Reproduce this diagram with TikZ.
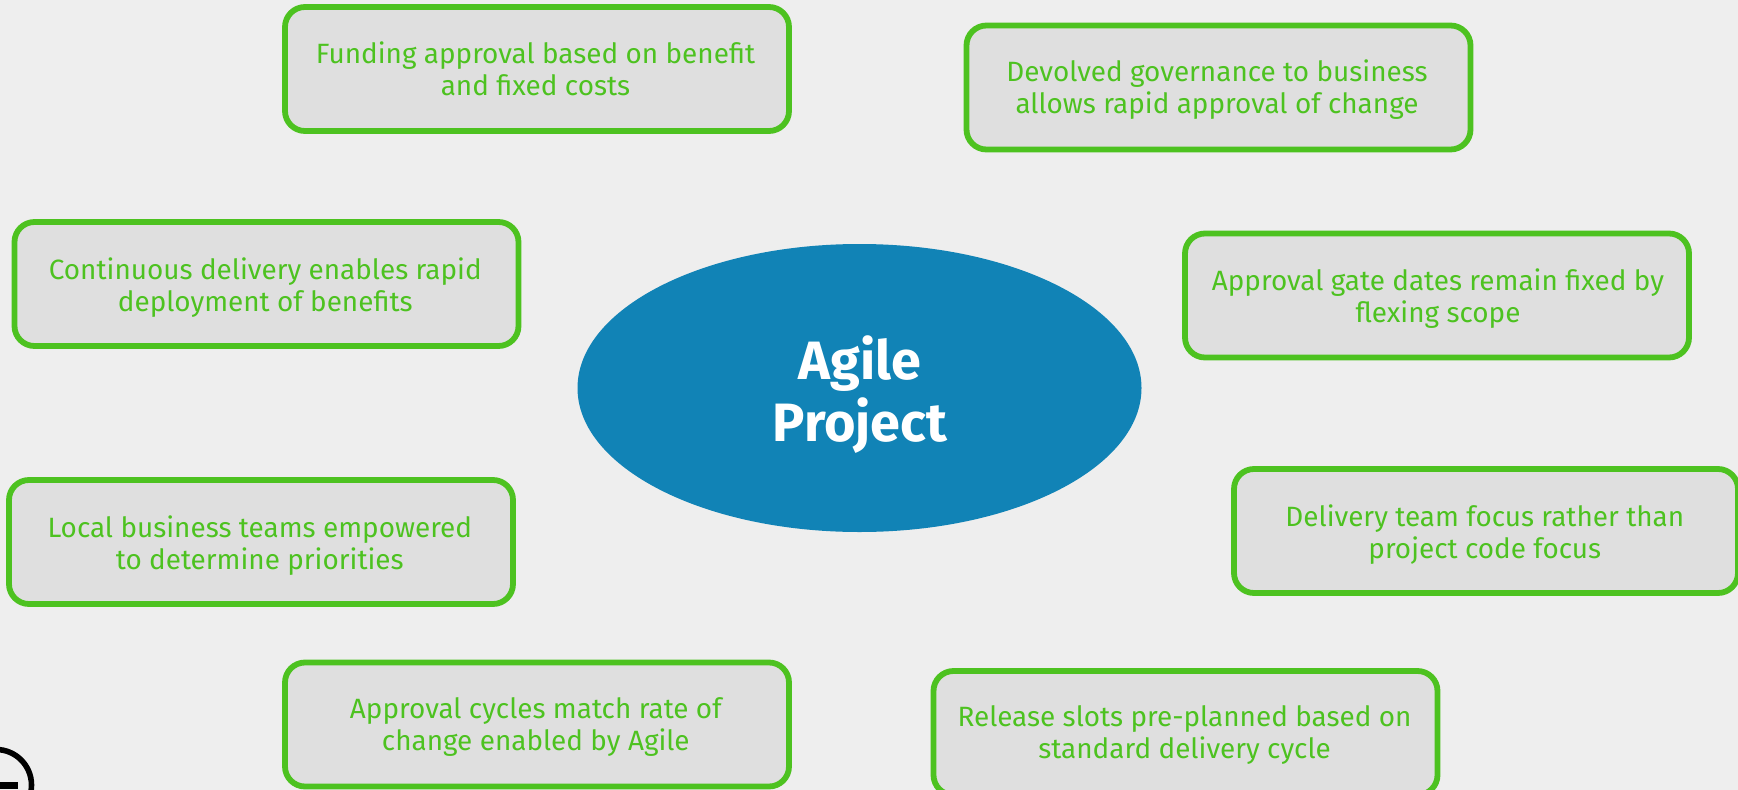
\documentclass[tikz,border=0pt]{standalone}
\usepackage{fontspec}
\setmainfont{Fira Sans}
\definecolor{bgc}{HTML}{EEEEEE}
\definecolor{boxfill}{HTML}{DFDFDF}
\definecolor{gr}{HTML}{4DC220}
\definecolor{blu}{HTML}{1183B6}
\usetikzlibrary{shapes.geometric}
\tikzset{
 boxnode/.style={draw=gr,fill=boxfill,line width=5.8pt,rounded corners=20pt,minimum width=504pt,minimum height=124pt,inner sep=0pt},
 boxtext/.style={text=gr,align=center,font=\fontsize{27.9}{32}\selectfont,inner sep=0pt},
 hub/.style={ellipse,fill=blu,minimum width=564pt,minimum height=288pt,inner sep=0pt},
 hubtext/.style={text=white,align=center,inner sep=0pt,font=\fontsize{54}{62}\selectfont\bfseries}
}
\begin{document}
\begin{tikzpicture}[x=1pt,y=-1pt]
\path[use as bounding box,fill=bgc] (0,0) rectangle (1738,790);
\begin{scope}
\clip (0,0) rectangle (1738,790);
\node[hub] (core) at (859.5,388) {};
\node[hubtext] (coret) at ([shift={(0.5,7)}]core.center) {Agile\\Project};
\node[boxnode] (b1) at (537,69) {};
\node[boxnode] (b2) at (1218.5,87.5) {};
\node[boxnode] (b3) at (266.5,284) {};
\node[boxnode] (b4) at (1437,295.5) {};
\node[boxnode] (b5) at (261,542) {};
\node[boxnode] (b6) at (1486,531) {};
\node[boxnode] (b7) at (537,724.5) {};
\node[boxnode] (b8) at (1185.5,733) {};
\node[boxtext] (t1) at ([shift={(-1.5,0)}]b1.center) {Funding approval based on benefit\\and fixed costs};
\node[boxtext] (t2) at ([shift={(-1.5,2.2)}]b2.center) {Devolved governance to business\\allows rapid approval of change};
\node[boxtext] (t3) at ([shift={(-1.2,3.3)}]b3.center) {Continuous delivery enables rapid\\deployment of benefits};
\node[boxtext] (t4) at ([shift={(1,3.3)}]b4.center) {Approval gate dates remain fixed by\\flexing scope};
\node[boxtext] (t5) at ([shift={(-1.2,3.3)}]b5.center) {Local business teams empowered\\to determine priorities};
\node[boxtext] (t6) at ([shift={(-1.2,4)}]b6.center) {Delivery team focus rather than\\project code focus};
\node[boxtext] (t7) at ([shift={(-1.2,2.2)}]b7.center) {Approval cycles match rate of\\change enabled by Agile};
\node[boxtext] (t8) at ([shift={(-1,2.2)}]b8.center) {Release slots pre-planned based on\\standard delivery cycle};
\node[circle,draw=black,line width=5.6pt,minimum size=71pt,inner sep=0pt] (cc) at (-4,785) {};
\fill[black] (0,782) rectangle (18,789);
\end{scope}
\end{tikzpicture}
\end{document}
